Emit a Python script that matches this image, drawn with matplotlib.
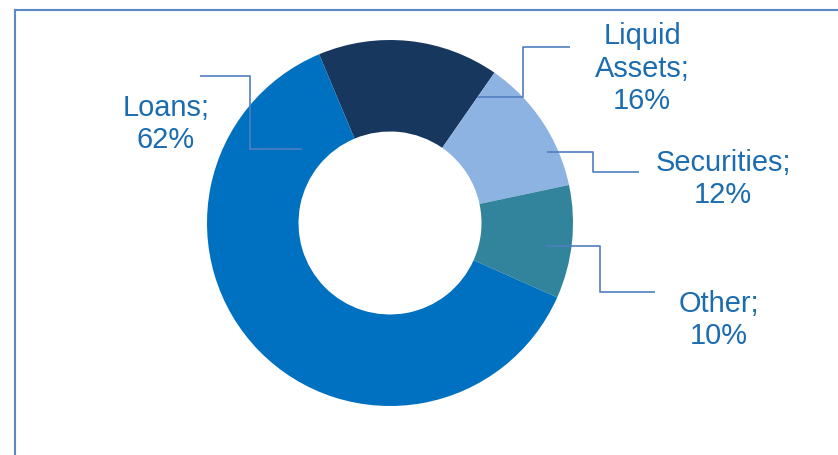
import matplotlib.pyplot as plt
from matplotlib.lines import Line2D
plt.switch_backend('agg')

# asset mix
labels = ['Liquid\nAssets', 'Securities', 'Other', 'Loans']
shares = [16, 12, 10, 62]
colors = ['#17375E', '#8DB3E2', '#31849B', '#0070C0']

W, H = 838, 455
CX, CY, R = 390, 223, 183   # donut centre and radius in pixels

def to_data(x, y):
    return (x - CX) / R, (CY - y) / R

# elbow leader lines (pixel points) and label anchors (centre x, last baseline y)
leaders = [
    [(477, 97), (523, 97), (523, 47), (570, 47)],
    [(547, 152), (593, 152), (593, 172), (639, 172)],
    [(546, 246), (600, 246), (600, 292), (655, 292)],
    [(302, 149), (250, 149), (250, 76), (200, 76)],
]
anchors = [(642, 109), (723, 203), (719, 344), (166, 148)]

fig = plt.figure(figsize=(W / 100, H / 100), dpi=100)
ax = fig.add_axes([0, 0, 1, 1])

ax.pie(shares, colors=colors, startangle=112.8, counterclock=False,
       radius=1, wedgeprops=dict(width=0.5, linewidth=0))

txt_color = '#1B6CB0'
line_color = '#4F7FC0'
for lab, val, pts, (tx, ty) in zip(labels, shares, leaders, anchors):
    xs, ys = zip(*[to_data(*p) for p in pts])
    ax.plot(xs, ys, color=line_color, lw=1.2, solid_capstyle='butt')
    x0, y0 = to_data(tx, ty)
    ax.text(x0, y0, '%s;\n%d%%' % (lab, val), ha='center', va='baseline',
            fontsize=20.9, color=txt_color, family='Liberation Sans',
            linespacing=1.2)

ax.set_xlim(-CX / R, (W - CX) / R)
ax.set_ylim(-(H - CY) / R, CY / R)
ax.set_aspect('auto')
ax.axis('off')

# chart border (top and left edges visible)
fx, fy = 15 / W, 1 - 10 / H
fig.add_artist(Line2D([fx, fx], [0, fy], color='#5A8AC6', lw=1.5))
fig.add_artist(Line2D([fx, 1], [fy, fy], color='#5A8AC6', lw=1.5))

fig.savefig('out.png', dpi=100)
plt.close('all')
